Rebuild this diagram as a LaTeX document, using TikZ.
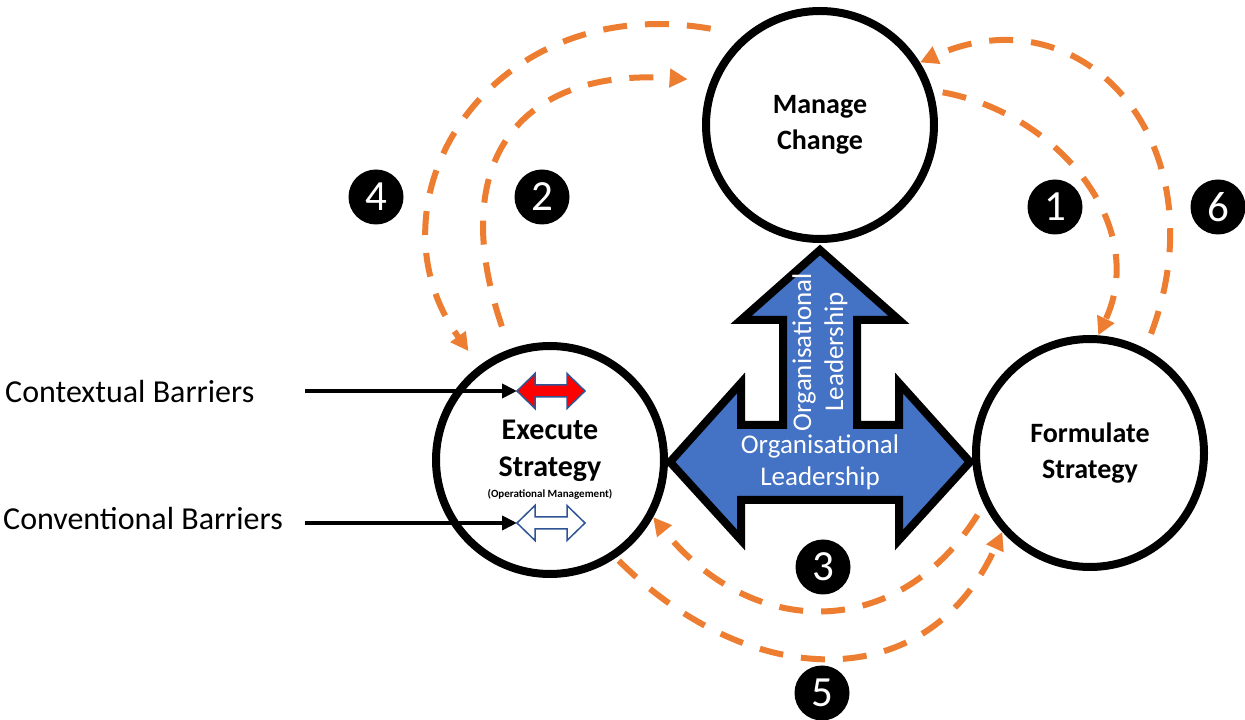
\documentclass[tikz,border=0pt]{standalone}
\usepackage{fontspec}
\setmainfont{Carlito}
\usetikzlibrary{arrows.meta}

\definecolor{leadblue}{HTML}{4472C4}
\definecolor{loopor}{HTML}{ED7D31}
\definecolor{barblue}{HTML}{2F5597}

\begin{document}
\begin{tikzpicture}[x=1pt, y=1pt, line join=miter,
    stage/.style={circle, draw=black, line width=8pt, fill=white, minimum size=228pt,
        align=center, font=\fontsize{28}{36}\selectfont\bfseries},
    badge/.style={circle, fill=black, text=white, minimum size=55pt, inner sep=0pt,
        font=\fontsize{43}{43}\selectfont},
    loop/.style={draw=loopor, line width=6pt, dash pattern=on 24pt off 18pt,
        -{Triangle[length=18pt,width=18pt]}},
    barrier/.style={line width=4pt, -{Triangle[length=15pt,width=14pt]}},
    leadtext/.style={text=white, align=center, font=\fontsize{27}{32}\selectfont}]

\useasboundingbox (0,0) rectangle (1245,720);

% leadership arrow between the three stages
\draw[fill=leadblue, line width=8pt]
    (820,470) -- (899,400) -- (857,400) -- (857,295) -- (899,295) -- (899,337)
    -- (970,258) -- (899,180) -- (899,220) -- (741,220) -- (741,180)
    -- (670,258) -- (741,337) -- (741,295) -- (783,295) -- (783,400)
    -- (741,400) -- cycle;
\node[leadtext] (lead) at (820,258) {Organisational\\Leadership};
\node[leadtext, rotate=90] (leadup) at (820,368) {Organisational\\Leadership};

% stages
\node[stage] (manage) at (820,595) {Manage\\Change};
\node[stage, font=\fontsize{30}{37}\selectfont\bfseries] (execute) at (550,260)
    {Execute\\Strategy\\[-16pt]{\fontsize{11}{13}\selectfont(Operational Management)}};
\node[stage] (formulate) at (1090,267) {Formulate\\Strategy};

% barriers
\node[anchor=west, inner sep=0pt, font=\fontsize{32}{38}\selectfont] (ctx) at (5,328) {Contextual Barriers};
\node[anchor=west, inner sep=0pt, font=\fontsize{32}{38}\selectfont] (conv) at (3,201) {Conventional Barriers};
\foreach \nm/\y/\col in {redgap/329/red, whitegap/197/white}{
    \draw[draw=barblue, fill=\col, line width=1.5pt]
        (517,\y) -- ++(18,17.5) -- ++(0,-11.5) -- ++(32,0) -- ++(0,11.5) -- ++(18,-17.5)
        -- ++(-18,-17.5) -- ++(0,11.5) -- ++(-32,0) -- ++(0,-11.5) -- cycle;
    \coordinate (\nm) at (517,\y);
}
\draw[barrier] ([xshift=-212pt]redgap) -- (redgap);
\draw[barrier] ([xshift=-212pt]whitegap) -- (whitegap);

% loops
\draw[loop, shorten <=10pt] (manage.17) .. controls (1060,606) and (1149,493) .. (formulate.86);
\draw[loop, shorten <=24pt, shorten >=23pt] (execute.110) .. controls (445,560) and (521,652) .. (manage.158);
\draw[loop, shorten <=12pt] (formulate.206) .. controls (899,80) and (754,78) .. (execute.-29);
\draw[loop, shorten <=34pt, shorten >=18pt] (manage.130) .. controls (490,730) and (360,520) .. (execute.127);
\draw[loop, shorten <=4pt] (execute.-56) .. controls (747,31) and (926,20) .. (formulate.222);
\draw[loop, shorten <=16pt] (formulate.62) .. controls (1222,575) and (1084,731) .. (manage.32);

\foreach \n/\x/\y in {1/1055/513, 2/542/523, 3/823/153, 4/376/523, 5/822/27, 6/1218/513}{
    \node[badge] (b\n) at (\x,\y) {\n};
}

\end{tikzpicture}
\end{document}
